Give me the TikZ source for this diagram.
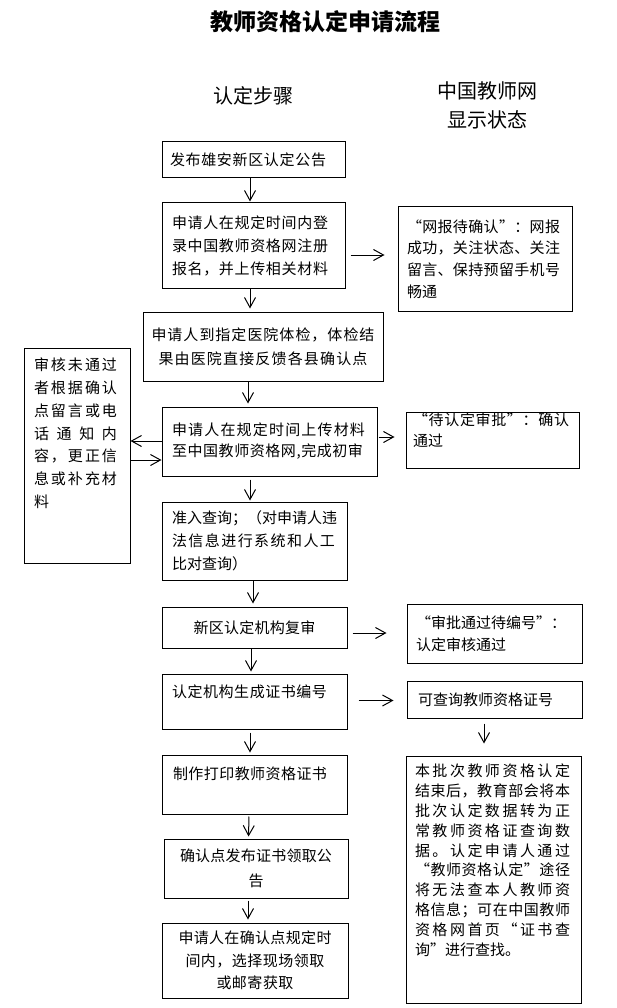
\documentclass[tikz,border=0pt]{standalone}
\usepackage{fontspec}
\newfontfamily\cjk{Noto Sans CJK SC}
\usetikzlibrary{arrows.meta}
\makeatletter
\def\spr@end{\spr@end@}
\def\spr#1{\spr@a#1\spr@end}
\def\spr@a#1#2{#1\ifx#2\spr@end\else\hfill\expandafter\spr@a\expandafter#2\fi}
\makeatother
\newcommand\jl[2]{\leavevmode\hbox to #1{\spr{#2}}}
\newcommand\lqf{\makebox[1em][r]{“}}
\newcommand\rqf{\makebox[1em][l]{”}}
\tikzset{
  bx/.style={draw, line width=1pt, rectangle, inner ysep=0pt, font=\cjk\fontsize{15}{#1}\selectfont},
  bx/.default=22,
  arr/.style={-{Straight Barb[length=10pt,width=11pt]}, line width=1pt},
}
\begin{document}
\begin{tikzpicture}[x=1pt,y=-1pt]
\useasboundingbox[fill=white] (0,0) rectangle (616,1008);
% headings
\node[font=\cjk\bfseries\fontsize{23}{23}\selectfont] (title) at (325,22) {教师资格认定申请流程};
\node[font=\cjk\fontsize{20}{20}\selectfont] (h1) at (253,96) {认定步骤};
\node[font=\cjk\fontsize{20}{29.5}\selectfont, align=center] (h2) at (487,105.5) {中国教师网\\显示状态};
% left column
\node[bx, minimum width=183pt, minimum height=36pt, inner xsep=8pt, text width=167pt, align=left] (b1) at (253.5,160) {\jl{156pt}{发布雄安新区认定公告}};
\node[bx=23, minimum width=183pt, minimum height=85pt, inner xsep=10pt, text width=163pt, align=left] (b2) at (253.5,245.5) {\jl{156pt}{申请人在规定时间内登}\\\jl{156pt}{录中国教师资格网注册}\\\jl{156pt}{报名，并上传相关材料}};
\node[bx=24, minimum width=240pt, minimum height=69pt, align=center] (b3) at (263,346.5) {\jl{223pt}{申请人到指定医院体检，体检结}\\\jl{209pt}{果由医院直接反馈各县确认点}};
\node[bx=21, minimum width=215pt, minimum height=69pt, inner xsep=10pt, text width=195pt, align=left] (b4) at (269.5,441.5) {\jl{193pt}{申请人在规定时间上传材料}\\\jl{191pt}{至中国教师资格网,完成初审}};
\node[bx=22.8, minimum width=106pt, minimum height=215pt, inner xsep=10pt, text width=86pt, align=left] (l) at (77,455.5) {\jl{83pt}{审核未通过}\\\jl{83pt}{者根据确认}\\\jl{83pt}{点留言或电}\\\jl{83pt}{话通知内}\\\jl{83pt}{容，更正信}\\\jl{83pt}{息或补充材}\\料\\\mbox{}\\\mbox{}};
\node[bx=23, minimum width=185pt, minimum height=78pt, inner xsep=10pt, text width=165pt, align=left] (b5) at (254.5,541) {准入查询；（对申请人违\\\jl{163pt}{法信息进行系统和人工}\\比对查询）};
\node[bx, minimum width=185pt, minimum height=41pt, align=center] (b6) at (254.5,627.5) {\jl{122pt}{新区认定机构复审}};
\node[bx=20, minimum width=185pt, minimum height=55pt, inner xsep=10pt, text width=165pt, align=left] (b7) at (254.5,701.5) {\jl{155pt}{认定机构生成证书编号}\\\mbox{}};
\node[bx=23, minimum width=185pt, minimum height=59pt, inner xsep=11pt, text width=163pt, align=left] (b8) at (254.5,784.5) {\jl{154pt}{制作打印教师资格证书}\\\mbox{}};
\node[bx=25, minimum width=184pt, minimum height=59pt, align=center] (b9) at (256,868.5) {\jl{152pt}{确认点发布证书领取公}\\告};
\node[bx=22.5, minimum width=186pt, minimum height=75pt, align=center] (b10) at (255,960.5) {\jl{153pt}{申请人在确认点规定时}\\\jl{139pt}{间内，选择现场领取}\\\jl{77pt}{或邮寄获取}};
% right column
\node[bx=21.7, minimum width=174pt, minimum height=104pt, inner xsep=9pt, text width=156pt, align=left] (r1) at (485,259) {\jl{153pt}{\lqf 网报待确认\rqf：网报}\\\jl{153pt}{成功，关注状态、关注}\\\jl{153pt}{留言、保持预留手机号}\\畅通};
\node[bx=21, minimum width=173pt, minimum height=56pt, inner xsep=7pt, text width=159pt, align=left] (r2) at (492.5,440) {\jl{156pt}{\lqf 待认定审批\rqf：确认}\\通过\\\mbox{}};
\node[bx=22, minimum width=175pt, minimum height=59pt, inner xsep=9pt, text width=157pt, align=left] (r3) at (494.5,633.5) {\lqf 审批通过待编号\rqf：\\认定审核通过};
\node[bx, minimum width=175pt, minimum height=37pt, inner xsep=11pt, text width=153pt, align=left] (r4) at (494.5,699.5) {可查询教师资格证号};
\node[bx=19.8, minimum width=175pt, minimum height=247pt, inner xsep=9pt, text width=157pt, align=left] (r5) at (493.5,879.5) {\jl{155pt}{本批次教师资格认定}\\\jl{155pt}{结束后，教育部会将本}\\\jl{155pt}{批次认定数据转为正}\\\jl{155pt}{常教师资格证查询数}\\\jl{155pt}{据。认定申请人通过}\\\jl{155pt}{\lqf 教师资格认定\rqf 途径}\\\jl{155pt}{将无法查本人教师资}\\\jl{155pt}{格信息；可在中国教师}\\\jl{155pt}{资格网首页\lqf 证书查}\\询\rqf 进行查找。\\\mbox{}\\\mbox{}};
% vertical arrows
\draw[arr, shorten >=1pt] ([xshift=-3.5pt]b1.south) -- ([xshift=-3.5pt]b2.north);
\draw[arr, shorten >=3pt] ([xshift=-3.5pt]b2.south) -- ([xshift=-13pt]b3.north);
\draw[arr, shorten >=3pt] ([xshift=-15pt]b3.south) -- ([xshift=-21.5pt]b4.north);
\draw[arr, shorten <=3pt, shorten >=1pt] ([xshift=-19.5pt]b4.south) -- ([xshift=-4.5pt]b5.north);
\draw[arr, shorten >=3pt] ([xshift=-1.5pt]b5.south) -- ([xshift=-1.5pt]b6.north);
\draw[arr, shorten >=2pt] ([xshift=-3.5pt]b6.south) -- ([xshift=-3.5pt]b7.north);
\draw[arr, shorten <=3pt, shorten >=2pt] ([xshift=-4.5pt]b7.south) -- ([xshift=-4.5pt]b8.north);
\draw[arr, shorten <=2pt, shorten >=2pt] ([xshift=-5.5pt]b8.south) -- ([xshift=-7.5pt]b9.north);
\draw[arr, shorten <=2pt, shorten >=3pt] ([xshift=-8pt]b9.south) -- ([xshift=-7pt]b10.north);
\draw[arr, shorten <=5pt, shorten >=12pt] ([xshift=-10.5pt]r4.south) -- ([xshift=-9.5pt]r5.north);
% horizontal arrows
\draw[arr] ([xshift=5pt,yshift=-9.5pt]b2.east) -- ([xshift=-13pt,yshift=4pt]r1.west);
\draw[arr] ([xshift=1pt,yshift=4.5pt]b4.east) -- ([xshift=-11pt,yshift=3pt]r2.west);
\draw[arr] ([xshift=5pt,yshift=-5.5pt]b6.east) -- ([xshift=-20pt,yshift=0.5pt]r3.west);
\draw[arr] ([xshift=11pt,yshift=1pt]b7.east) -- ([xshift=-13pt,yshift=-1pt]r4.west);
\draw[arr] ([yshift=0.5pt]b4.west) -- ([yshift=14.5pt]l.east);
\draw[arr] ([yshift=-4.5pt]l.east) -- ([yshift=-18.5pt]b4.west);
\end{tikzpicture}
\end{document}
